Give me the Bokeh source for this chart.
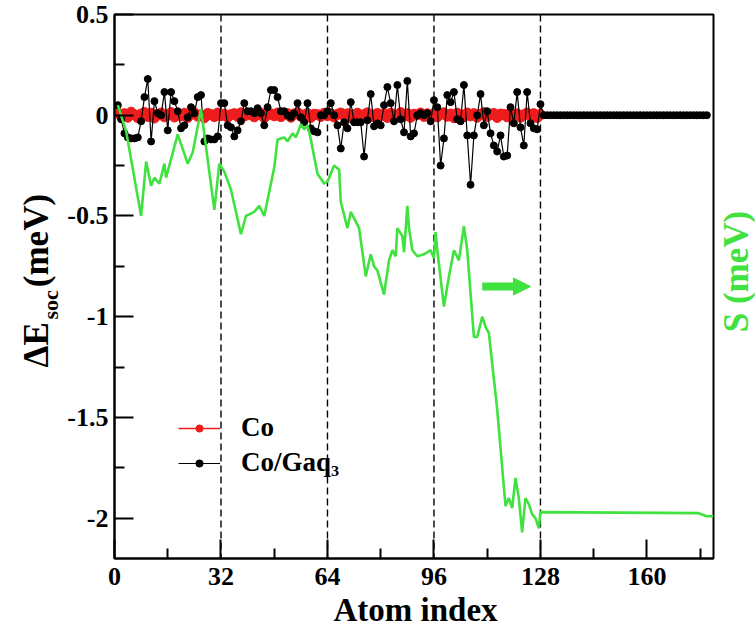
import math
from bokeh.plotting import figure
from bokeh.models import (Range1d, FixedTicker, Span, Label, Legend, LegendItem,
                          Arrow, NormalHead)
from bokeh.embed import file_html
from bokeh.resources import INLINE

# ---------------- data ----------------
x_major = [0, 32, 64, 96, 128, 160]
x_minor = [16, 48, 80, 112, 144, 176]
y_major = [-2, -1.5, -1, -0.5, 0, 0.5]
y_minor = [-1.75, -1.25, -0.75, -0.25, 0.25]
y_tick_labels = ["-2", "-1.5", "-1", "-0.5", "0", "0.5"]
cell_bounds = [32, 64, 96, 128]

co_idx = list(range(1, 129))
co_val = [
    0.012, -0.004, 0.008, -0.010, 0.015, 0.002, -0.012, 0.006, 0.014, -0.006, 0.010, -0.014, 0.004, 0.011, -0.008, 0.003,
    0.013, -0.009, 0.005, -0.003, 0.010, -0.011, 0.007, 0.012, -0.005, 0.002, -0.013, 0.009, 0.004, -0.007, 0.011, -0.002,
    0.006, -0.010, 0.003, 0.008, -0.006, 0.012, -0.004, 0.002, 0.009, -0.008, 0.005, 0.010, -0.012, 0.001, 0.007, -0.003,
    0.011, -0.007, 0.004, 0.008, -0.010, 0.006, 0.013, -0.005, 0.002, 0.009, -0.011, 0.005, 0.003, -0.006, 0.010, -0.002,
    0.008, -0.009, 0.005, 0.011, -0.004, 0.007, -0.012, 0.003, 0.010, -0.006, 0.004, 0.012, -0.008, 0.002, 0.009, -0.003,
    0.006, -0.011, 0.010, 0.001, -0.007, 0.013, -0.004, 0.008, -0.010, 0.005, 0.002, 0.011, -0.006, 0.007, -0.002, 0.009,
    -0.008, 0.004, 0.012, -0.005, 0.006, -0.012, 0.010, 0.003, -0.007, 0.011, -0.003, 0.008, -0.010, 0.005, 0.013, -0.006,
    0.002, 0.009, -0.011, 0.006, 0.004, -0.008, 0.012, -0.002, 0.007, -0.010, 0.003, 0.011, -0.005, 0.008, -0.012, 0.004,
]

gaq_idx = list(range(1, 179))
gaq_val = [
    0.05, -0.02, -0.09, -0.11, -0.115, -0.115, -0.11, -0.03, 0.09, 0.18, -0.13, 0.07, 0.01, 0.0, 0.115, -0.075,
    0.115, 0.07, 0.02, -0.065, -0.05, -0.01, 0.04, 0.01, 0.09, 0.10, -0.13, -0.115, -0.12, -0.12, -0.105, 0.06,
    0.06, -0.05, -0.06, -0.105, -0.075, -0.03, 0.06, 0.02, 0.02, 0.01, 0.035, 0.01, -0.05, 0.04, 0.125, 0.125,
    0.09, 0.02, 0.02, 0.0, -0.01, 0.01, 0.06, -0.01, -0.035, 0.06, -0.065, -0.08, -0.085, 0.0, 0.0, 0.02,
    0.06, 0.0, -0.05, -0.165, -0.035, -0.065, 0.065, -0.035, -0.035, -0.035, -0.205, -0.025, 0.105, -0.055, -0.04, -0.05,
    0.05, 0.14, 0.06, -0.03, 0.15, -0.02, -0.085, 0.17, -0.105, -0.09, 0.0, 0.01, 0.0, 0.01, -0.03, 0.075,
    0.04, -0.25, -0.115, 0.10, 0.065, 0.115, -0.02, -0.03, 0.15, -0.10, -0.345, -0.10, 0.0, 0.105, -0.05, 0.02,
    -0.09, -0.15, -0.18, -0.10, -0.205, -0.20, 0.04, -0.04, 0.115, -0.06, -0.15, 0.115, -0.04, -0.065, -0.07, 0.055,
    0.0, 0.0, 0.0, 0.0, 0.0, 0.0, 0.0, 0.0, 0.0, 0.0, 0.0, 0.0, 0.0, 0.0, 0.0, 0.0,
    0.0, 0.0, 0.0, 0.0, 0.0, 0.0, 0.0, 0.0, 0.0, 0.0, 0.0, 0.0, 0.0, 0.0, 0.0, 0.0,
    0.0, 0.0, 0.0, 0.0, 0.0, 0.0, 0.0, 0.0, 0.0, 0.0, 0.0, 0.0, 0.0, 0.0, 0.0, 0.0,
    0.0, 0.0,
]

s_x = [1, 3.5, 8, 9.5, 11, 12, 13.5, 15, 15.5, 19, 22, 23.5, 26, 30, 31.5, 33, 35, 38, 39.5, 42,
       43.5, 45, 48, 49, 51, 52, 53.5, 54.5, 56, 57, 58, 59, 61, 63, 64, 66, 67.5, 68, 70, 71,
       73.5, 75.5, 77, 78, 79, 81, 82.5, 83.5, 84.5, 85, 86.5, 87, 88, 88.5, 89.5, 91, 93, 95, 96, 96.5,
       97, 99, 100.5, 102, 103.5, 105, 106, 108, 109, 110.5, 111.5, 112.5, 115, 117.5, 118.5, 119.5, 120.5, 121.5, 122.5, 123.5,
       124.5, 125.5, 126.5, 127.5, 128, 175.5, 178, 180]
s_val = [0.05, -0.08, -0.5, -0.23, -0.35, -0.31, -0.34, -0.24, -0.31, -0.095, -0.24, -0.185, 0.03, -0.47, -0.24, -0.28, -0.37, -0.59, -0.5, -0.48,
         -0.45, -0.5, -0.26, -0.12, -0.11, -0.13, -0.09, -0.11, -0.045, -0.07, -0.05, -0.12, -0.29, -0.34, -0.33, -0.25, -0.27, -0.43, -0.56, -0.48,
         -0.56, -0.8, -0.69, -0.75, -0.77, -0.89, -0.72, -0.67, -0.7, -0.56, -0.6, -0.68, -0.45, -0.56, -0.67, -0.7, -0.69, -0.67, -0.71, -0.58,
         -0.67, -0.95, -0.8, -0.67, -0.72, -0.55, -0.67, -1.1, -1.1, -1.0, -1.05, -1.08, -1.46, -1.94, -1.9, -1.95, -1.8, -1.9, -2.07, -1.9,
         -1.93, -1.98, -2.0, -2.05, -1.97, -1.975, -1.99, -1.99]

arrow_x = [110.5, 125]
arrow_y = -0.85

# ---------------- styles ----------------
SERIF = "Liberation Serif"
RED = "#ee1c1c"
GREEN = "#3fe23f"

p = figure(width=755, height=632, output_backend="svg", toolbar_location=None,
           x_range=Range1d(0, 180), y_range=Range1d(-2.2, 0.5),
           min_border_left=114, min_border_right=42, min_border_top=14, min_border_bottom=74)
p.background_fill_color = "white"
p.border_fill_color = "white"
p.outline_line_color = "black"
p.outline_line_width = 2
p.xgrid.visible = False
p.ygrid.visible = False

for ax in (p.xaxis[0], p.yaxis[0]):
    ax.axis_line_width = 2
    ax.major_tick_line_width = 2
    ax.minor_tick_line_width = 2
    ax.major_tick_in = 19
    ax.major_tick_out = 0
    ax.minor_tick_in = 10
    ax.minor_tick_out = 0
    ax.major_label_text_font = SERIF
    ax.major_label_text_font_style = "bold"
    ax.major_label_text_font_size = "26px"
    ax.major_label_text_color = "black"
    ax.axis_label_standoff = 0

p.xaxis[0].ticker = FixedTicker(ticks=x_major, minor_ticks=x_minor)
p.yaxis[0].ticker = FixedTicker(ticks=y_major, minor_ticks=y_minor)
p.yaxis[0].major_label_overrides = {v: t for v, t in zip(y_major, y_tick_labels)}
p.xaxis[0].major_label_standoff = 9
p.yaxis[0].major_label_standoff = 6

for xb in cell_bounds:
    p.add_layout(Span(location=xb, dimension="height", line_color="black",
                      line_width=1.4, line_dash="7 4", level="underlay"))

r_co_line = p.line(co_idx, co_val, line_color=RED, line_width=1.5)
r_co_pts = p.scatter(co_idx, co_val, size=10, fill_color=RED, line_color=RED, marker="circle")
r_gaq_line = p.line(gaq_idx, gaq_val, line_color="black", line_width=1.2)
r_gaq_pts = p.scatter(gaq_idx, gaq_val, size=7, fill_color="black", line_color="black", marker="circle")
r_s = p.line(s_x, s_val, line_color=GREEN, line_width=2.6)

p.add_layout(Arrow(end=NormalHead(size=17, fill_color=GREEN, line_color=GREEN),
                   x_start=arrow_x[0], y_start=arrow_y, x_end=arrow_x[1], y_end=arrow_y,
                   line_color=GREEN, line_width=8))

legend = Legend(items=[LegendItem(label="Co", renderers=[r_co_line, r_co_pts]),
                       LegendItem(label="Co/Gaq\u2083", renderers=[r_gaq_line, r_gaq_pts])],
                location=(64, 80), padding=0, margin=0, spacing=4,
                glyph_width=42, glyph_height=18, label_height=30, label_standoff=21,
                label_text_font=SERIF, label_text_font_style="bold", label_text_font_size="27px",
                label_text_color="black",
                border_line_alpha=0, background_fill_alpha=0)
p.add_layout(legend)

# axis titles, placed in side panels, positioned in canvas pixels
def lab(text, x, y, size, place, angle=math.pi / 2, style="bold", color="black",
        align="left", baseline="alphabetic"):
    p.add_layout(Label(text=text, x=x, y=y, x_units="canvas", y_units="canvas",
                       angle=angle, text_align=align, text_baseline=baseline,
                       text_font=SERIF, text_font_style=style, text_font_size=size,
                       text_color=color), place)

lab("\u0394E\u2003(meV)", 36, 367, "35px", "left")
lab("soc", 50, 319, "22px", "left")
lab("S (meV)", 736, 271, "35px", "right", color=GREEN, align="center", baseline="middle")
lab("Atom index", 415, 609, "33px", "below", angle=0.0, align="center")

open("out.html", "w").write(file_html(p, INLINE))
